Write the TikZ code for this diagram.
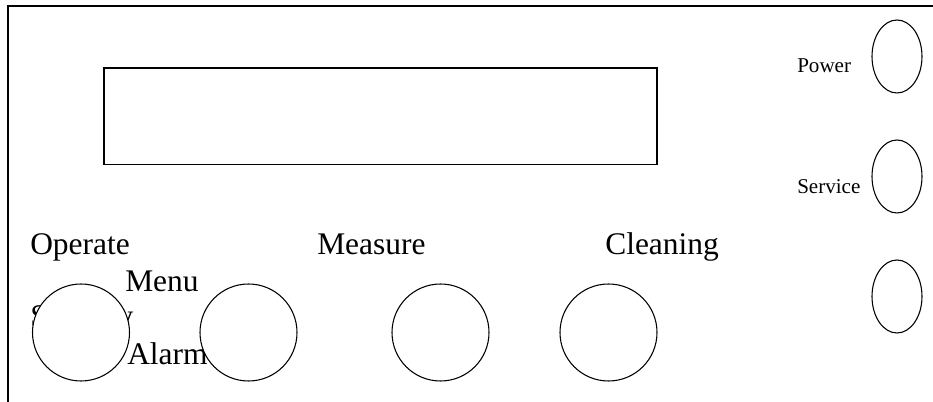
\documentclass[tikz,border=0pt]{standalone}
\usepackage{fontspec}
\setmainfont{Liberation Serif}
\usetikzlibrary{shapes.geometric}
\begin{document}
\begin{tikzpicture}[x=0.75pt,y=-0.75pt,
  frame/.style={line width=1.1pt},
  bigbtn/.style={draw,circle,fill=white,line width=0.8pt,minimum size=72.75pt,inner sep=0pt},
  smallbtn/.style={draw,ellipse,fill=white,line width=0.8pt,minimum width=37.5pt,minimum height=54.75pt,inner sep=0pt},
  biglabel/.style={anchor=base west,inner sep=0pt,font=\fontsize{23.6}{28}\selectfont},
  smalllabel/.style={anchor=base west,inner sep=0pt,font=\fontsize{15.8}{19}\selectfont}]
\useasboundingbox (0,0) rectangle (933,402);
% outer frame
\coordinate (fb) at (8,402);
\coordinate (fc) at (8,6);
\coordinate (fr) at (933,6);
\draw[frame] (fb) -- (fc) -- (fr);
% display
\node[draw,frame,minimum width=414.75pt,minimum height=72.4pt,inner sep=0pt] (display) at (380.5,116.2) {};
% labels
\node[biglabel] (operate) at (30,255) {Operate};
\node[biglabel] (measure) at (317,255) {Measure};
\node[biglabel] (cleaning) at (605,255) {Cleaning};
\node[biglabel] (menu) at (125,292) {Menu};
\node[biglabel] (standby) at (30,327) {Standby};
\node[biglabel] (alarm) at (127,365) {Alarm};
\node[smalllabel] (power) at (797,73) {Power};
\node[smalllabel] (service) at (797,194) {Service};
% buttons
\node[bigbtn] (b1) at (81,332.5) {};
\node[bigbtn] (b2) at (248.5,332.5) {};
\node[bigbtn] (b3) at (440.5,332.5) {};
\node[bigbtn] (b4) at (608.5,332.5) {};
\node[smallbtn] (s1) at (897,56.5) {};
\node[smallbtn] (s2) at (897,176.5) {};
\node[smallbtn] (s3) at (897,296.5) {};
\end{tikzpicture}
\end{document}
